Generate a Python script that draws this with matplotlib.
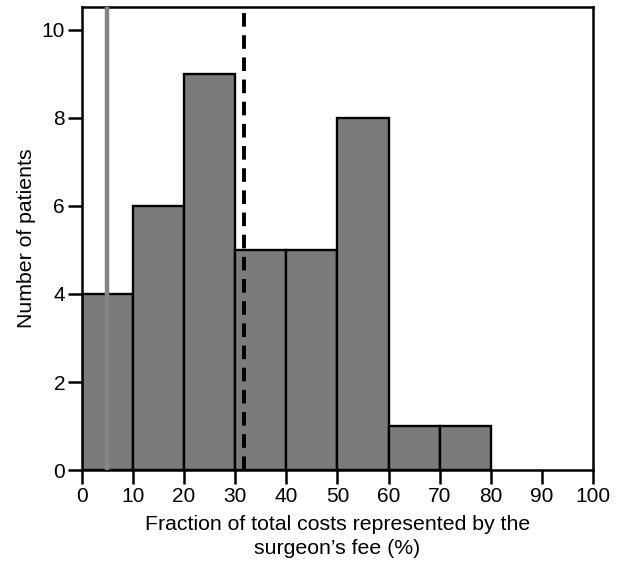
import matplotlib.pyplot as plt
import numpy as np

plt.rcParams['font.family'] = ['Liberation Sans', 'DejaVu Sans']

# histogram of surgeon's fee share (bins of 10%)
bin_edges = [0, 10, 20, 30, 40, 50, 60, 70, 80]
counts = [4, 6, 9, 5, 5, 8, 1, 1]
median_line = 5      # solid gray line
mean_line = 31.7     # dashed black line

fig = plt.figure(figsize=(6.21, 5.67), dpi=100)
ax = fig.add_axes([0.1316, 0.171, 0.8234, 0.8167])

lefts = np.array(bin_edges[:-1])
widths = np.diff(bin_edges)
ax.bar(lefts, counts, width=widths, align='edge', color='#7b7b7b',
       edgecolor='black', linewidth=1.7, zorder=2)

ax.axvline(median_line, color='#858585', linewidth=3.2, zorder=3)
ax.axvline(mean_line, color='black', linewidth=2.8, dashes=(3.5, 2.2), zorder=3)

ax.set_xlim(0, 100)
ax.set_ylim(0, 10.52)
ax.set_xticks(np.arange(0, 101, 10))
ax.set_yticks(np.arange(0, 11, 2))

for s in ax.spines.values():
    s.set_linewidth(1.8)

ax.tick_params(direction='out', length=10, width=1.8, labelsize=15, pad=2)
ax.set_xlabel("Fraction of total costs represented by the\nsurgeon\u2019s fee (%)",
              fontsize=15.3, labelpad=7, linespacing=1.3)
ax.set_ylabel("Number of patients", fontsize=15.3, labelpad=4)

fig.savefig('out.png', dpi=100)
